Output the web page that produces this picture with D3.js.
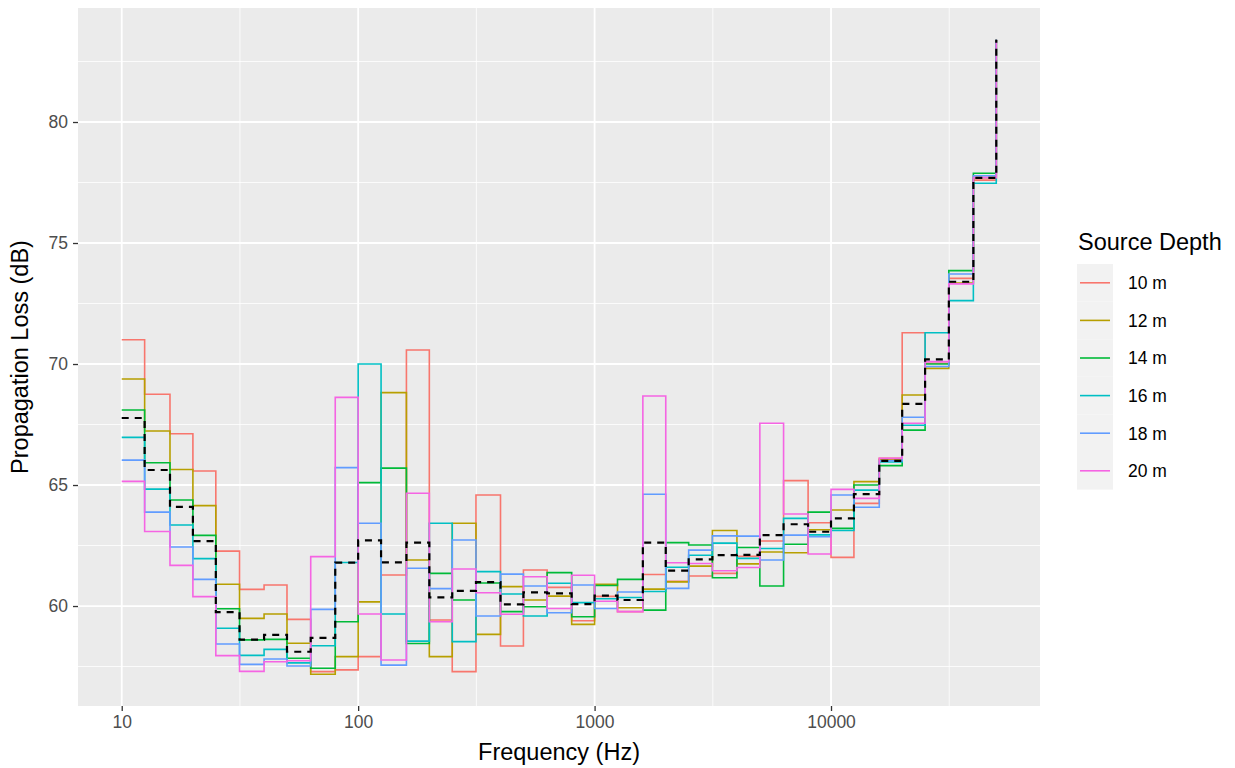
<!DOCTYPE html>
<html>
<head>
<meta charset="utf-8">
<script src="https://cdn.jsdelivr.net/npm/d3@7"></script>
<style>
  html, body { margin: 0; padding: 0; background: #fff; }
  svg { display: block; font-family: "Liberation Sans", Arial, sans-serif; }
</style>
</head>
<body>
<svg id="chart" width="1235" height="768"></svg>
<script>
// One-third octave band centre frequencies (Hz)
const frequencies = [10, 12.5, 16, 20, 25, 31.5, 40, 50, 63, 80, 100, 125, 160, 200, 250, 315, 400, 500,
  630, 800, 1000, 1250, 1600, 2000, 2500, 3150, 4000, 5000, 6300, 8000, 10000, 12500, 16000, 20000,
  25000, 31500, 40000, 50000];

// Propagation loss (dB) per source depth
const depth10m = [71.0, 68.75, 67.12, 65.58, 62.27, 60.69, 60.87, 59.45, 57.29, 57.36, 57.91, 61.28, 70.58, 59.42,
  57.29, 64.59, 58.35, 61.49, 60.77, 59.39, 60.4, 59.77, 61.3, 61.02, 61.24, 61.35, 62.05, 62.69, 65.18, 63.44,
  62.01, 64.24, 66.1, 71.29, 70.03, 73.54, 77.6, 83.4];
const depth12m = [69.38, 67.23, 65.64, 64.15, 60.9, 59.49, 59.67, 58.46, 57.18, 57.91, 60.17, 68.82, 61.9, 57.91,
  63.42, 58.83, 60.8, 60.25, 60.41, 59.24, 60.9, 59.93, 60.7, 61.0, 61.65, 63.12, 61.74, 62.23, 62.2, 63.15,
  63.97, 65.14, 66.05, 68.72, 69.82, 73.35, 77.7, 83.4];
const depth14m = [68.1, 65.92, 64.38, 62.92, 59.89, 58.6, 58.62, 57.84, 57.43, 59.35, 65.1, 65.7, 58.45, 61.35,
  60.25, 60.95, 59.77, 59.97, 61.38, 59.56, 60.85, 61.1, 59.83, 62.62, 62.52, 61.17, 62.42, 60.83, 62.55, 63.88,
  63.21, 65.0, 65.8, 67.27, 70.0, 73.86, 77.88, 83.4];
const depth16m = [66.97, 64.83, 63.35, 61.96, 59.08, 57.96, 58.21, 57.65, 58.36, 61.8, 70.0, 59.67, 58.55, 63.42,
  58.53, 61.42, 60.5, 59.59, 60.94, 60.14, 60.3, 60.35, 60.6, 61.6, 62.1, 62.6, 61.97, 62.38, 63.62, 62.94,
  63.12, 64.79, 65.95, 67.47, 71.29, 72.62, 77.47, 83.4];
const depth18m = [66.03, 63.88, 62.44, 61.1, 58.43, 57.59, 57.81, 57.52, 59.86, 65.72, 63.42, 57.56, 61.56, 60.72,
  62.73, 59.59, 61.32, 60.83, 59.72, 60.87, 59.9, 60.58, 64.62, 60.73, 62.31, 62.9, 62.89, 61.9, 62.93, 62.86,
  64.59, 64.08, 66.0, 67.8, 69.9, 73.72, 77.78, 83.4];
const depth20m = [65.15, 63.08, 61.68, 60.39, 57.95, 57.3, 57.7, 57.74, 62.04, 68.62, 59.67, 57.77, 64.66, 59.35,
  61.53, 60.55, 59.66, 61.21, 59.9, 61.27, 60.2, 59.77, 68.68, 61.79, 61.76, 61.46, 61.59, 67.55, 63.8, 62.15,
  64.82, 64.45, 66.1, 67.55, 70.1, 73.31, 77.7, 83.4];

// Average over all depths (dashed line)
const meanLoss = [67.77, 65.62, 64.10, 62.68, 59.75, 58.61, 58.81, 58.11, 58.68, 61.79, 62.71, 61.80, 62.62, 60.36,
  60.63, 60.99, 60.07, 60.56, 60.52, 60.08, 60.43, 60.25, 62.62, 61.46, 61.93, 62.10, 62.11, 62.93, 63.38, 63.07,
  63.62, 64.62, 66.0, 68.35, 70.19, 73.4, 77.69, 83.4];

const depthLabels = ["10 m", "12 m", "14 m", "16 m", "18 m", "20 m"];
const depthColors = ["#F8766D", "#B79F00", "#00BA38", "#00BFC4", "#619CFF", "#F564E3"];
const seriesValues = [depth10m, depth12m, depth14m, depth16m, depth18m, depth20m];

const xTicks = [10, 100, 1000, 10000];
const xTickLabels = ["10", "100", "1000", "10000"];
const yTicks = [60, 65, 70, 75, 80];

const svg = d3.select("#chart");
const panel = { left: 78, right: 1040, top: 8, bottom: 706 };

// ggplot-like 5% expansion of the data range
const lx = d3.extent(frequencies).map(Math.log10);
const padX = (lx[1] - lx[0]) * 0.05;
const x = d3.scaleLog()
  .domain([Math.pow(10, lx[0] - padX), Math.pow(10, lx[1] + padX)])
  .range([panel.left, panel.right]);

const allVals = seriesValues.flat().concat(meanLoss);
const ye = d3.extent(allVals);
const padY = (ye[1] - ye[0]) * 0.05;
const y = d3.scaleLinear()
  .domain([ye[0] - padY, ye[1] + padY])
  .range([panel.bottom, panel.top]);

// panel background
svg.append("rect")
  .attr("x", panel.left).attr("y", panel.top)
  .attr("width", panel.right - panel.left).attr("height", panel.bottom - panel.top)
  .attr("fill", "#EBEBEB");

// minor grid (midpoints between major breaks)
const xMinor = [Math.pow(10, 1.5), Math.pow(10, 2.5), Math.pow(10, 3.5), Math.pow(10, 4.5)];
const yMinor = [57.5, 62.5, 67.5, 72.5, 77.5, 82.5];
const grid = svg.append("g");
grid.selectAll(".xminor").data(xMinor).join("line")
  .attr("x1", d => x(d)).attr("x2", d => x(d))
  .attr("y1", panel.top).attr("y2", panel.bottom)
  .attr("stroke", "#fff").attr("stroke-width", 0.8);
grid.selectAll(".yminor").data(yMinor.filter(v => y(v) > panel.top && y(v) < panel.bottom)).join("line")
  .attr("x1", panel.left).attr("x2", panel.right)
  .attr("y1", d => y(d)).attr("y2", d => y(d))
  .attr("stroke", "#fff").attr("stroke-width", 0.8);
grid.selectAll(".xmajor").data(xTicks).join("line")
  .attr("x1", d => x(d)).attr("x2", d => x(d))
  .attr("y1", panel.top).attr("y2", panel.bottom)
  .attr("stroke", "#fff").attr("stroke-width", 1.8);
grid.selectAll(".ymajor").data(yTicks).join("line")
  .attr("x1", panel.left).attr("x2", panel.right)
  .attr("y1", d => y(d)).attr("y2", d => y(d))
  .attr("stroke", "#fff").attr("stroke-width", 1.8);

// step lines
const step = d3.line()
  .x(d => x(d[0]))
  .y(d => y(d[1]))
  .curve(d3.curveStepAfter);

const lines = svg.append("g");
seriesValues.forEach((vals, i) => {
  lines.append("path")
    .datum(frequencies.map((f, j) => [f, vals[j]]))
    .attr("d", step)
    .attr("fill", "none")
    .attr("stroke", depthColors[i])
    .attr("stroke-width", 1.6);
});
lines.append("path")
  .datum(frequencies.map((f, j) => [f, meanLoss[j]]))
  .attr("d", step)
  .attr("fill", "none")
  .attr("stroke", "#000")
  .attr("stroke-width", 2.2)
  .attr("stroke-dasharray", "7,6");

// axes
const xAxis = d3.axisBottom(x).tickValues(xTicks).tickFormat((d, i) => xTickLabels[i])
  .tickSize(5).tickPadding(5);
const gx = svg.append("g").attr("transform", `translate(0,${panel.bottom})`).call(xAxis);
gx.select(".domain").remove();
gx.selectAll(".tick line").attr("stroke", "#333").attr("stroke-width", 1.3);
gx.selectAll(".tick text").attr("fill", "#4D4D4D").style("font-size", "17.5px")
  .style("font-family", "Liberation Sans, Arial, sans-serif");

const yAxis = d3.axisLeft(y).tickValues(yTicks).tickSize(5).tickPadding(5);
const gy = svg.append("g").attr("transform", `translate(${panel.left},0)`).call(yAxis);
gy.select(".domain").remove();
gy.selectAll(".tick line").attr("stroke", "#333").attr("stroke-width", 1.3);
gy.selectAll(".tick text").attr("fill", "#4D4D4D").style("font-size", "17.5px")
  .style("font-family", "Liberation Sans, Arial, sans-serif");

// axis titles
svg.append("text")
  .attr("x", (panel.left + panel.right) / 2).attr("y", 760)
  .attr("text-anchor", "middle")
  .style("font-size", "23.5px").attr("fill", "#000")
  .text("Frequency (Hz)");
svg.append("text")
  .attr("transform", `translate(28,${(panel.top + panel.bottom) / 2}) rotate(-90)`)
  .attr("text-anchor", "middle")
  .style("font-size", "23.5px").attr("fill", "#000")
  .text("Propagation Loss (dB)");

// legend
const legend = svg.append("g");
legend.append("text")
  .attr("x", 1078).attr("y", 250)
  .style("font-size", "23.5px").attr("fill", "#000")
  .text("Source Depth");
const keyTop = 264, keyH = 37.6, keyW = 36, keyX = 1077;
depthLabels.forEach((lab, i) => {
  const cy = keyTop + keyH * i + keyH / 2;
  legend.append("rect")
    .attr("x", keyX).attr("y", keyTop + keyH * i)
    .attr("width", keyW).attr("height", keyH)
    .attr("fill", "#F2F2F2");
  legend.append("line")
    .attr("x1", keyX + 3).attr("x2", keyX + keyW - 3)
    .attr("y1", cy).attr("y2", cy)
    .attr("stroke", depthColors[i]).attr("stroke-width", 1.6);
  legend.append("text")
    .attr("x", 1128).attr("y", cy)
    .attr("dy", "0.36em")
    .style("font-size", "17.5px").attr("fill", "#000")
    .text(lab);
});
</script>
</body>
</html>
